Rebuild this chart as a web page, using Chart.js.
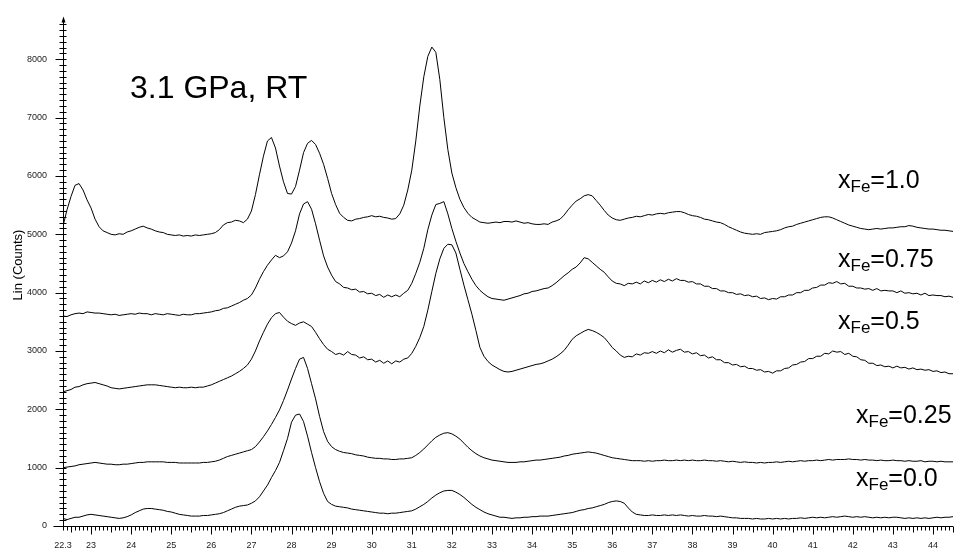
<!DOCTYPE html>
<html><head><meta charset="utf-8">
<script src="https://cdn.jsdelivr.net/npm/chart.js@4/dist/chart.umd.min.js"></script>
<style>html,body{margin:0;padding:0;background:#fff;}canvas{display:block;}</style>
</head><body>
<canvas id="c" width="954" height="553"></canvas>
<script>
// 2-theta grid (degrees)
const twoTheta = [
22.3,22.4,22.5,22.6,22.7,22.8,22.9,
23.0,23.1,23.2,23.3,23.4,23.5,23.6,23.7,23.8,23.9,
24.0,24.1,24.2,24.3,24.4,24.5,24.6,24.7,24.8,24.9,
25.0,25.1,25.2,25.3,25.4,25.5,25.6,25.7,25.8,25.9,
26.0,26.1,26.2,26.3,26.4,26.5,26.6,26.7,26.8,26.9,
27.0,27.1,27.2,27.3,27.4,27.5,27.6,27.7,27.8,27.9,
28.0,28.1,28.2,28.3,28.4,28.5,28.6,28.7,28.8,28.9,
29.0,29.1,29.2,29.3,29.4,29.5,29.6,29.7,29.8,29.9,
30.0,30.1,30.2,30.3,30.4,30.5,30.6,30.7,30.8,30.9,
31.0,31.1,31.2,31.3,31.4,31.5,31.6,31.7,31.8,31.9,
32.0,32.1,32.2,32.3,32.4,32.5,32.6,32.7,32.8,32.9,
33.0,33.1,33.2,33.3,33.4,33.5,33.6,33.7,33.8,33.9,
34.0,34.1,34.2,34.3,34.4,34.5,34.6,34.7,34.8,34.9,
35.0,35.1,35.2,35.3,35.4,35.5,35.6,35.7,35.8,35.9,
36.0,36.1,36.2,36.3,36.4,36.5,36.6,36.7,36.8,36.9,
37.0,37.1,37.2,37.3,37.4,37.5,37.6,37.7,37.8,37.9,
38.0,38.1,38.2,38.3,38.4,38.5,38.6,38.7,38.8,38.9,
39.0,39.1,39.2,39.3,39.4,39.5,39.6,39.7,39.8,39.9,
40.0,40.1,40.2,40.3,40.4,40.5,40.6,40.7,40.8,40.9,
41.0,41.1,41.2,41.3,41.4,41.5,41.6,41.7,41.8,41.9,
42.0,42.1,42.2,42.3,42.4,42.5,42.6,42.7,42.8,42.9,
43.0,43.1,43.2,43.3,43.4,43.5,43.6,43.7,43.8,43.9,
44.0,44.1,44.2,44.3,44.4,44.5];

const xTickLabels = [22.3,23,24,25,26,27,28,29,30,31,32,33,34,35,36,37,38,39,40,41,42,43,44];
const yTickLabels = [0,1000,2000,3000,4000,5000,6000,7000,8000];

// x_Fe = 1.0
const s100 = [
5140,5420,5650,5840,5870,5760,5590,
5450,5260,5130,5060,5030,5000,4990,5010,5000,5040,
5060,5090,5120,5140,5110,5090,5060,5040,5030,5000,
4990,4980,4990,4970,4980,4970,4990,4980,4990,5000,
5010,5030,5080,5160,5200,5210,5240,5230,5200,5260,
5400,5680,6020,6340,6600,6660,6480,6170,5900,5700,
5690,5820,6100,6400,6560,6610,6540,6390,6200,5960,
5700,5510,5360,5290,5240,5230,5260,5270,5290,5300,
5320,5300,5310,5290,5280,5260,5270,5350,5500,5760,
6100,6600,7200,7700,8050,8210,8120,7650,7000,6450,
6050,5800,5600,5460,5360,5290,5250,5210,5200,5190,
5200,5210,5200,5220,5220,5210,5230,5210,5190,5200,
5180,5170,5170,5180,5170,5210,5230,5260,5330,5420,
5500,5570,5610,5660,5680,5660,5580,5500,5410,5330,
5280,5250,5240,5260,5280,5290,5310,5300,5320,5340,
5330,5350,5360,5350,5370,5380,5390,5390,5370,5340,
5320,5310,5290,5260,5250,5230,5210,5200,5170,5130,
5100,5070,5040,5020,5010,5000,5010,5000,5030,5040,
5050,5060,5080,5110,5130,5140,5170,5190,5210,5230,
5250,5270,5290,5300,5300,5280,5250,5220,5190,5160,
5140,5120,5100,5090,5080,5090,5100,5090,5100,5110,
5110,5120,5130,5130,5150,5140,5120,5110,5100,5090,
5090,5080,5070,5070,5060,5050];

// x_Fe = 0.75
const s075 = [
3600,3590,3620,3640,3650,3640,3670,
3660,3650,3650,3640,3630,3620,3630,3610,3620,3630,
3640,3630,3650,3640,3640,3620,3640,3630,3620,3640,
3630,3620,3610,3630,3620,3620,3640,3640,3650,3660,
3670,3690,3700,3730,3740,3770,3800,3830,3870,3900,
3960,4080,4230,4360,4470,4560,4640,4600,4630,4700,
4850,5060,5350,5520,5560,5430,5180,4900,4630,4440,
4300,4190,4150,4090,4080,4050,4060,4010,4020,3980,
3990,3950,3970,3920,3960,3930,3960,3930,3990,4040,
4160,4330,4520,4760,5080,5330,5510,5530,5560,5350,
5100,4880,4680,4500,4360,4230,4120,4040,3980,3930,
3900,3890,3880,3870,3890,3910,3930,3950,3980,3990,
4020,4030,4050,4070,4080,4120,4170,4230,4290,4340,
4400,4440,4510,4600,4580,4520,4460,4400,4350,4270,
4200,4160,4150,4120,4160,4150,4180,4150,4200,4170,
4210,4180,4220,4190,4230,4200,4240,4210,4210,4180,
4190,4150,4150,4110,4110,4070,4070,4030,4030,4000,
4000,3970,3980,3950,3960,3930,3940,3900,3910,3880,
3900,3890,3930,3930,3960,3960,4000,4000,4040,4040,
4080,4090,4130,4130,4170,4160,4190,4150,4160,4110,
4110,4080,4080,4060,4070,4040,4070,4030,4040,4030,
4030,4000,4030,3990,4000,3980,3990,3960,3990,3950,
3960,3950,3950,3930,3940,3920];

// x_Fe = 0.5
const s050 = [
2300,2320,2340,2380,2390,2420,2440,
2450,2460,2440,2420,2400,2370,2360,2350,2360,2370,
2380,2390,2400,2410,2420,2420,2420,2410,2400,2390,
2380,2370,2380,2370,2370,2380,2370,2380,2380,2400,
2420,2450,2480,2510,2540,2570,2610,2650,2700,2760,
2860,3000,3170,3320,3460,3570,3640,3660,3580,3510,
3470,3440,3480,3500,3460,3420,3320,3210,3110,3030,
2990,2940,2960,2930,2990,2940,2930,2880,2900,2850,
2860,2810,2840,2790,2830,2780,2830,2810,2860,2880,
2960,3080,3230,3420,3700,4020,4330,4580,4760,4830,
4820,4680,4400,4130,3880,3630,3350,3060,2910,2820,
2760,2720,2680,2650,2640,2650,2670,2690,2710,2730,
2750,2770,2780,2800,2830,2860,2900,2950,3010,3100,
3200,3260,3300,3340,3370,3350,3320,3280,3230,3150,
3060,3000,2930,2890,2910,2900,2950,2930,2970,2960,
2990,2960,3000,2970,3020,2980,3010,3030,2980,2990,
2950,2970,2920,2930,2880,2900,2850,2850,2800,2800,
2760,2770,2730,2740,2700,2700,2670,2680,2640,2650,
2620,2660,2660,2700,2710,2760,2770,2810,2820,2870,
2870,2910,2910,2960,2950,3000,2980,2990,2940,2960,
2910,2900,2850,2840,2790,2790,2750,2760,2730,2740,
2710,2740,2710,2720,2690,2710,2680,2690,2670,2680,
2650,2660,2630,2640,2610,2610];

// x_Fe = 0.25
const s025 = [
1000,1010,1020,1030,1050,1060,1070,
1080,1090,1080,1070,1060,1060,1050,1050,1060,1060,
1070,1080,1090,1090,1100,1100,1100,1100,1100,1090,
1090,1090,1080,1080,1080,1080,1080,1080,1090,1090,
1100,1110,1130,1160,1190,1210,1230,1250,1270,1290,
1310,1360,1440,1530,1630,1740,1860,1990,2150,2330,
2520,2700,2860,2890,2700,2440,2180,1880,1620,1450,
1360,1310,1280,1260,1250,1240,1220,1210,1200,1180,
1170,1160,1160,1150,1150,1140,1140,1150,1150,1160,
1170,1210,1260,1320,1390,1460,1520,1560,1590,1600,
1580,1540,1490,1420,1350,1290,1240,1200,1170,1150,
1130,1120,1110,1100,1090,1090,1090,1100,1100,1110,
1120,1130,1130,1140,1150,1160,1170,1180,1200,1210,
1230,1240,1250,1260,1270,1260,1250,1230,1210,1190,
1170,1160,1150,1140,1130,1120,1120,1120,1110,1120,
1110,1120,1120,1130,1120,1120,1130,1120,1130,1120,
1130,1120,1120,1130,1120,1120,1110,1120,1110,1100,
1110,1100,1090,1100,1090,1090,1080,1090,1080,1090,
1090,1100,1090,1100,1110,1100,1110,1120,1110,1120,
1120,1130,1120,1130,1140,1130,1140,1140,1140,1150,
1140,1140,1130,1140,1130,1130,1120,1130,1120,1120,
1130,1120,1120,1110,1120,1110,1110,1120,1100,1110,
1110,1100,1110,1100,1100,1100];

// x_Fe = 0.0
const s000 = [
130,110,130,150,150,170,190,
200,190,180,170,160,150,140,130,140,160,
190,230,260,290,300,300,290,280,270,250,
240,220,200,190,180,170,170,170,180,180,
190,200,210,230,260,290,320,340,350,360,
390,430,500,600,700,830,950,1090,1290,1500,
1780,1900,1920,1790,1540,1260,1000,760,560,420,
370,340,330,320,310,290,280,270,260,250,
240,230,220,220,210,220,220,230,240,250,
260,290,330,370,420,480,530,570,600,610,
610,580,540,490,430,370,320,280,240,210,
190,170,150,150,140,130,140,140,150,150,
160,160,170,170,170,180,190,200,210,220,
230,250,270,280,300,310,330,350,370,400,
420,430,420,390,310,240,200,190,180,180,
190,180,180,190,180,190,180,190,180,170,
180,170,170,180,170,170,160,170,160,150,
140,140,130,130,130,120,130,120,120,130,
120,130,120,130,120,130,130,140,130,140,
150,140,150,140,150,160,150,160,170,160,
150,160,150,160,150,140,150,140,150,140,
150,150,140,130,140,130,140,130,140,130,
140,150,140,150,150,160];

const seriesValues = [s100, s075, s050, s025, s000];
const seriesLabels = ['1.0', '0.75', '0.5', '0.25', '0.0'];
const titleText = '3.1 GPa, RT';
const yAxisTitle = 'Lin (Counts)';

const FONT = 'Arial, "Liberation Sans", Helvetica, sans-serif';

const datasets = seriesValues.map((vals, k) => ({
  label: 'xFe=' + seriesLabels[k],
  data: vals.map((v, i) => ({x: twoTheta[i], y: v})),
  borderColor: '#000',
  borderWidth: 1,
  pointRadius: 0,
  tension: 0,
  fill: false
}));

const decor = {
  id: 'decor',
  afterDraw(chart) {
    const ctx = chart.ctx;
    const xs = chart.scales.x, ys = chart.scales.y;
    const ca = chart.chartArea;
    const x0 = Math.round(xs.getPixelForValue(xs.min)) + 0.5;
    const y0 = Math.round(ys.getPixelForValue(0)) + 0.5;
    ctx.save();
    ctx.strokeStyle = '#000';
    ctx.fillStyle = '#000';
    ctx.lineWidth = 1;
    // axes lines
    ctx.beginPath();
    ctx.moveTo(x0 - 10, y0); ctx.lineTo(ca.right, y0);
    ctx.moveTo(x0, y0); ctx.lineTo(x0, ca.top - 2);
    ctx.stroke();
    // arrow on y axis
    ctx.beginPath();
    ctx.moveTo(x0, ca.top - 5); ctx.lineTo(x0 - 2, ca.top + 1); ctx.lineTo(x0 + 2, ca.top + 1); ctx.closePath();
    ctx.fill();
    // x ticks
    ctx.beginPath();
    for (let i = 223; i <= 445; i++) {
      const v = i / 10;
      const px = Math.round(xs.getPixelForValue(v)) + 0.5;
      let len = 4;
      if (i % 10 === 0) len = 8; else if (i % 5 === 0) len = 6;
      ctx.moveTo(px, y0); ctx.lineTo(px, y0 + len);
    }
    ctx.stroke();
    // y ticks
    ctx.beginPath();
    for (let v = 100; v <= 8600; v += 100) {
      const py = Math.round(ys.getPixelForValue(v)) + 0.5;
      if (v % 1000 === 0) { ctx.moveTo(x0 - 8, py); ctx.lineTo(x0 + 3, py); }
      else { ctx.moveTo(x0 - 4, py); ctx.lineTo(x0 + 3, py); }
    }
    ctx.stroke();
    // y title
    ctx.save();
    ctx.translate(22, 265);
    ctx.rotate(-Math.PI / 2);
    ctx.font = '13px ' + FONT;
    ctx.textAlign = 'center';
    ctx.textBaseline = 'alphabetic';
    ctx.fillText(yAxisTitle, 0, 0);
    ctx.restore();
    // title text
    ctx.font = '32px ' + FONT;
    ctx.textAlign = 'left';
    ctx.textBaseline = 'alphabetic';
    ctx.fillText(titleText, 130, 98);
    // series labels
    const pos = [[838, 188], [838, 267], [838, 329], [856, 423], [856, 486]];
    seriesLabels.forEach((lab, k) => {
      let [x, b] = pos[k];
      ctx.font = '25px ' + FONT;
      ctx.fillText('x', x, b);
      x += ctx.measureText('x').width;
      ctx.font = '17px ' + FONT;
      ctx.fillText('Fe', x, b + 4);
      x += ctx.measureText('Fe').width;
      ctx.font = '25px ' + FONT;
      ctx.fillText('=' + lab, x, b);
    });
    ctx.restore();
  }
};

new Chart(document.getElementById('c'), {
  type: 'line',
  data: { datasets },
  plugins: [decor],
  options: {
    responsive: false,
    animation: false,
    devicePixelRatio: 1,
    layout: { padding: { top: 14, right: 1, left: 0, bottom: 0 } },
    plugins: { legend: { display: false }, tooltip: { enabled: false } },
    scales: {
      x: {
        type: 'linear',
        min: 22.3, max: 44.5,
        afterFit(s) { s.height = 27; },
        afterBuildTicks(s) { s.ticks = xTickLabels.map(v => ({value: v})); },
        ticks: {
          autoSkip: false, maxRotation: 0,
          font: { size: 9, family: FONT }, color: '#222', padding: 14,
          callback: (v) => String(v)
        },
        grid: { display: false, drawTicks: false },
        border: { display: false }
      },
      y: {
        type: 'linear',
        min: 0, max: 8650,
        afterFit(s) { s.width = 63; },
        afterBuildTicks(s) { s.ticks = yTickLabels.map(v => ({value: v})); },
        ticks: {
          font: { size: 9, family: FONT }, color: '#222', padding: 16,
          callback: (v) => String(v)
        },
        grid: { display: false, drawTicks: false },
        border: { display: false }
      }
    }
  }
});
</script>
</body></html>
